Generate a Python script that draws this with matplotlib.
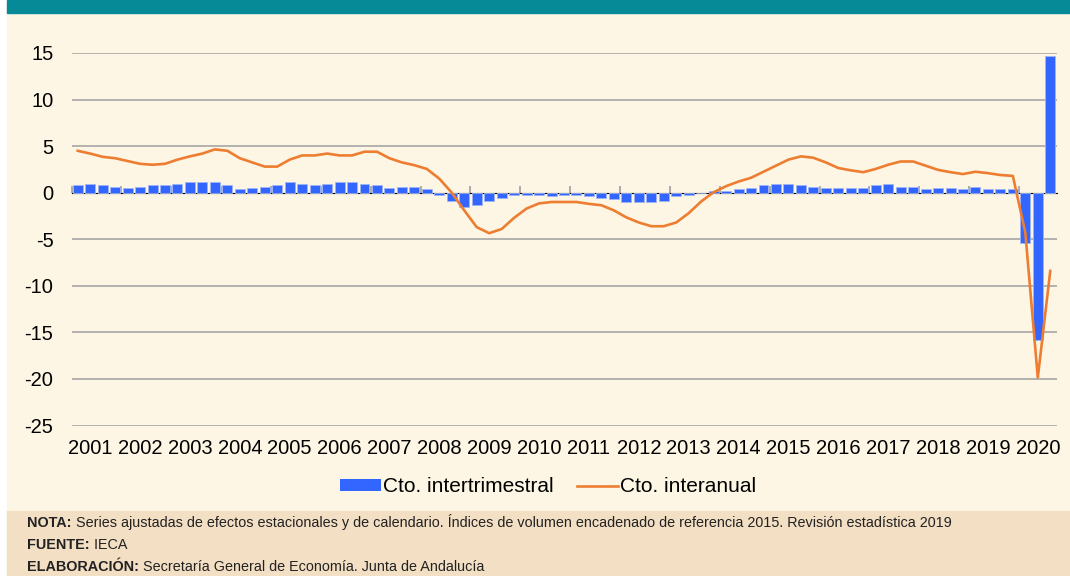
import matplotlib
matplotlib.use("Agg")
import matplotlib.pyplot as plt
from matplotlib.patches import Patch, Rectangle
from matplotlib.lines import Line2D
import numpy as np

years = [str(y) for y in range(2001, 2021)]

# crecimiento intertrimestral (%), 2001T1 - 2020T3
intertrimestral = [
    0.8, 0.95, 0.8, 0.65,
    0.5, 0.65, 0.8, 0.8,
    0.95, 1.1, 1.1, 1.1,
    0.8, 0.35, 0.5, 0.65,
    0.8, 1.1, 0.95, 0.8,
    0.95, 1.1, 1.1, 0.95,
    0.8, 0.5, 0.65, 0.65,
    0.35, -0.2, -0.85, -1.5,
    -1.35, -0.85, -0.55, -0.25,
    -0.25, -0.2, -0.4, -0.25,
    -0.25, -0.4, -0.55, -0.7,
    -1.0, -1.0, -1.0, -0.85,
    -0.4, -0.2, -0.05, 0.2,
    0.2, 0.35, 0.5, 0.8,
    0.95, 0.95, 0.8, 0.65,
    0.5, 0.5, 0.5, 0.5,
    0.8, 0.95, 0.65, 0.65,
    0.35, 0.5, 0.5, 0.35,
    0.65, 0.35, 0.35, 0.35,
    -5.37, -15.85, 14.63,
]

# crecimiento interanual (%)
interanual = [
    4.5, 4.2, 3.85, 3.7,
    3.4, 3.1, 3.0, 3.1,
    3.55, 3.9, 4.2, 4.65,
    4.5, 3.7, 3.25, 2.8,
    2.8, 3.55, 4.0, 4.0,
    4.2, 4.0, 4.0, 4.4,
    4.4, 3.7, 3.25, 2.95,
    2.55, 1.5, 0.0, -1.9,
    -3.7, -4.35, -3.9, -2.7,
    -1.7, -1.15, -1.0, -1.0,
    -1.0, -1.2, -1.35, -1.9,
    -2.65, -3.2, -3.6, -3.6,
    -3.2, -2.2, -0.95, 0.05,
    0.7, 1.2, 1.6, 2.25,
    2.9, 3.55, 3.9, 3.75,
    3.25, 2.65, 2.4, 2.2,
    2.55, 3.0, 3.35, 3.35,
    2.9, 2.45, 2.2, 2.0,
    2.25, 2.1, 1.9, 1.8,
    -4.3, -19.85, -8.4,
]

notas = [
    ("NOTA:", " Series ajustadas de efectos estacionales y de calendario. Índices de volumen encadenado de referencia 2015. Revisión estadística 2019"),
    ("FUENTE:", " IECA"),
    ("ELABORACIÓN:", " Secretaría General de Economía. Junta de Andalucía"),
]

BLUE = "#3366ff"
ORANGE = "#ed7d31"
GRID = "#a6a6a6"
CREAM = "#fef6e4"
NOTE_BG = "#f3dfc4"
TEAL = "#078a98"

plt.rcParams["font.family"] = ["Liberation Sans", "DejaVu Sans"]
plt.rcParams["axes.unicode_minus"] = False

fig = plt.figure(figsize=(10.7, 5.76), dpi=100)
fig.patch.set_facecolor("white")
# fondos
x0 = 7 / 1070
fig.add_artist(Rectangle((x0, 0), 1, 1, transform=fig.transFigure, color=CREAM, zorder=-10))
fig.add_artist(Rectangle((x0, 1 - 13 / 576), 1, 13 / 576, transform=fig.transFigure, color=TEAL, zorder=-9))
fig.add_artist(Rectangle((x0, 0), 1, 65 / 576, transform=fig.transFigure, color=NOTE_BG, zorder=-9))

ax = fig.add_axes([71.5 / 1070, 1 - 425.5 / 576, 985 / 1070, 372.5 / 576])
ax.set_facecolor("none")

x = np.arange(len(intertrimestral))
ax.bar(x, intertrimestral, width=0.8, color=BLUE, edgecolor="#9fb5f7", linewidth=0.6, zorder=2)
ax.plot(x, interanual, color=ORANGE, linewidth=1.9, zorder=3)

ax.set_xlim(-0.5, len(x) - 0.5)
ax.set_ylim(-25, 15)
ax.set_yticks(np.arange(-25, 16, 5))
for v in np.arange(-25, 16, 5):
    if v != 0:
        ax.axhline(v, color=GRID, linewidth=1.2, zorder=1)
for s in ax.spines.values():
    s.set_visible(False)
ax.tick_params(axis="y", length=0, pad=13, labelsize=14.5)

# etiquetas de año en la parte baja
centers = [4 * i + 1 for i in range(len(years))]
ax.set_xticks(centers)
ax.set_xticklabels(years, fontsize=14.5)
ax.tick_params(axis="x", length=0, pad=10)

# eje en cero con marcas entre años
zero = ax.secondary_xaxis(25 / 40)
zero.set_xticks([4 * i - 0.5 for i in range(20)])
zero.set_xticklabels([])
zero.tick_params(length=5, width=1.3, color=GRID, direction="out")
zero.spines["bottom"].set_color(GRID)
zero.spines["bottom"].set_linewidth(1.2)
zero.set_zorder(1)

handles = [Patch(facecolor=BLUE, edgecolor="none"), Line2D([0], [0], color=ORANGE, linewidth=1.9)]
fig.legend(handles, ["Cto. intertrimestral", "Cto. interanual"], loc="center",
           bbox_to_anchor=(548 / 1070, 1 - 487 / 576), ncol=2, frameon=False,
           fontsize=15, handlelength=1.95, handleheight=0.45, handletextpad=0.1,
           columnspacing=1.15)

ys = [1 - 527 / 576, 1 - 549 / 576, 1 - 571 / 576]
for (lab, txt), yy in zip(notas, ys):
    t = fig.text(27 / 1070, yy, lab, fontsize=10.4, fontweight="bold", color="#222222",
                 family=["Liberation Sans Narrow", "Liberation Sans", "DejaVu Sans"], va="baseline")
    fig.canvas.draw()
    bb = t.get_window_extent()
    fig.text(bb.x1 / 1070, yy, txt, fontsize=10.4, color="#222222",
             family=["Liberation Sans Narrow", "Liberation Sans", "DejaVu Sans"], va="baseline")

fig.savefig("out.png", dpi=100, facecolor=fig.get_facecolor())
